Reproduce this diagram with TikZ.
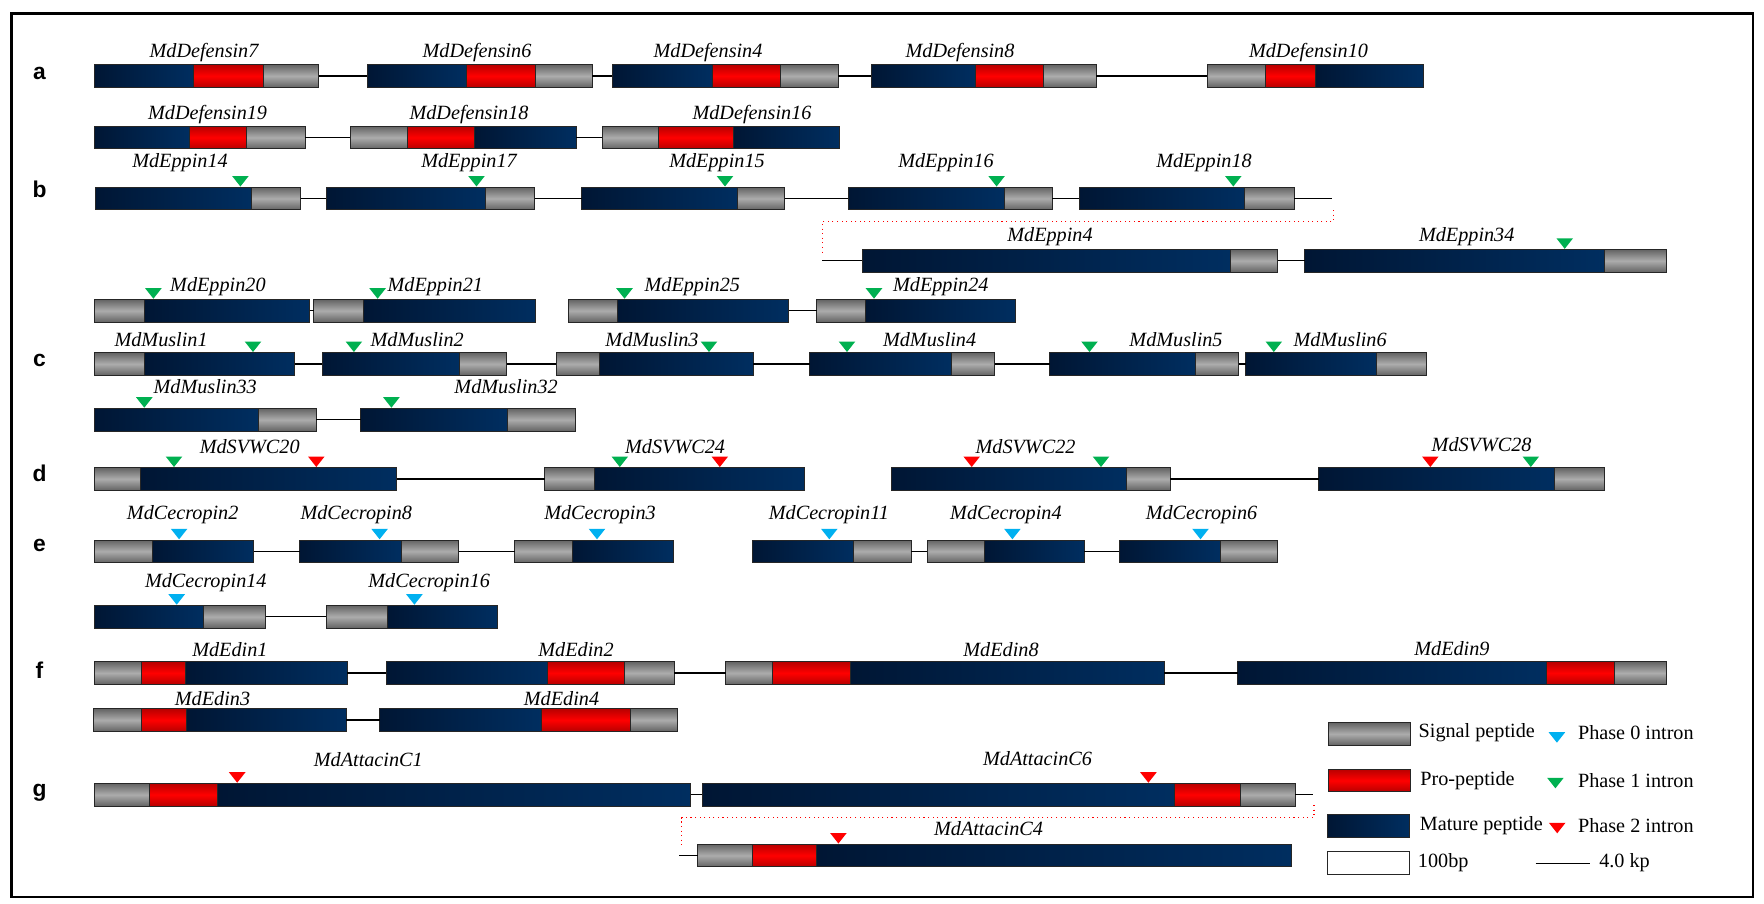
\documentclass[tikz,border=0pt]{standalone}
\usepackage{fontspec}
\setmainfont{Liberation Serif}
\setsansfont{Liberation Sans}
\usepackage{tikz}
\def\pix{0.02cm}

\definecolor{bluedark}{RGB}{0,22,52}
\definecolor{bluelight}{RGB}{0,46,96}
\definecolor{sigdark}{RGB}{100,100,100}
\definecolor{siglight}{RGB}{172,172,172}
\definecolor{reddark}{RGB}{185,0,0}
\definecolor{ph0}{RGB}{0,176,240}
\definecolor{ph1}{RGB}{0,176,80}
\definecolor{ph2}{RGB}{255,0,0}

% one gene = a row of peptide segments, named <gene>-1, <gene>-2, ...
\newcommand{\gene}[3]{%
  \foreach \xa/\xb/\kind [count=\k] in {#3}
    {\node[\kind, minimum width={(\xb-\xa)*\pix}] (#1-\k) at ({(\xa+\xb)/2},#2) {};}%
}
% intron mark sitting on top of a gene row
\newcommand{\imark}[3]{\fill[#1] ({#2-8.3},{#3-22.5}) -- ({#2+8.3},{#3-22.5}) -- (#2,{#3-12}) -- cycle;}

\begin{document}
\begin{tikzpicture}[x=\pix, y=-\pix]
    \tikzstyle{segment}=[rectangle, draw=black!85, line width=0.5pt, minimum height=0.45cm, inner sep=0pt, outer sep=0pt]
    \tikzstyle{sigpep}=[segment, top color=sigdark, bottom color=sigdark, middle color=siglight]
    \tikzstyle{propep}=[segment, top color=reddark, bottom color=reddark, middle color=red]
    \tikzstyle{matpep}=[segment, left color=bluedark, right color=bluelight]
    \tikzstyle{intron}=[draw=black, line width=0.6pt]
    \tikzstyle{link}=[draw=red, dotted, line width=0.6pt]
    \tikzstyle{gname}=[font=\fontsize{11.5}{13}\selectfont\itshape, inner sep=0pt]
    \tikzstyle{legtext}=[font=\fontsize{11.5}{13}\selectfont, anchor=west, inner sep=0pt]
    \tikzstyle{rowlabel}=[font=\fontsize{13}{15}\selectfont\sffamily\bfseries, inner sep=0pt]

    \useasboundingbox (0,0) rectangle (1764,903);
    \draw[line width=1.2pt] (11.5,13.5) rectangle (1753,897);

    % Row letters
    \foreach \r/\y in {a/73,b/189,c/360,d/473,e/545,f/670,g/793}
        \node[rowlabel] (row-\r) at (39.5,\y) {\r};

    % a: defensins
    \gene{D7}{76}{94.1/193.7/matpep,193.7/263/propep,263/318.7/sigpep}
    \gene{D6}{76}{367/466.6/matpep,466.6/535.8/propep,535.8/592/sigpep}
    \gene{D4}{76}{612/712/matpep,712/780.7/propep,780.7/838/sigpep}
    \gene{D8}{76}{871/975/matpep,975/1043.6/propep,1043.6/1096/sigpep}
    \gene{D10}{76}{1207/1265/sigpep,1265/1315/propep,1315/1423/matpep}
    \gene{D19}{137.5}{94/189/matpep,189/246/propep,246/305/sigpep}
    \gene{D18}{137.5}{350/407/sigpep,407/474.5/propep,474.5/576/matpep}
    \gene{D16}{137.5}{602/658.5/sigpep,658.5/733.6/propep,733.6/839/matpep}

    % b: eppins
    \gene{E14}{198.5}{95/251/matpep,251/300.5/sigpep}
    \gene{E17}{198.5}{326/485.6/matpep,485.6/534.6/sigpep}
    \gene{E15}{198.5}{581.6/737.6/matpep,737.6/784.6/sigpep}
    \gene{E16}{198.5}{848.3/1004/matpep,1004/1052/sigpep}
    \gene{E18}{198.5}{1079/1244.4/matpep,1244.4/1294.3/sigpep}
    \gene{E4}{260.8}{862.2/1230.3/matpep,1230.3/1277.6/sigpep}
    \gene{E34}{260.8}{1304.8/1604.5/matpep,1604.5/1666.7/sigpep}
    \gene{E20}{310.7}{94.9/144.3/sigpep,144.3/309.6/matpep}
    \gene{E21}{310.7}{313.6/363/sigpep,363/535.8/matpep}
    \gene{E25}{310.7}{568.2/617.8/sigpep,617.8/788.6/matpep}
    \gene{E24}{310.7}{816.7/865.7/sigpep,865.7/1015/matpep}
    \coordinate (E18-tail) at (1332,198.5);
    \coordinate (E4-head) at (822.2,260.8);
    \draw[intron] (E18-2.east) -- (E18-tail);
    \draw[intron] (E4-head) -- (E4-1.west);
    \draw[link] (1333.4,210) |- (822.2,221.7) -- (822.2,251.7);

    % c: muslins
    \gene{M1}{364}{94.9/144.3/sigpep,144.3/294.6/matpep}
    \gene{M2}{364}{322.3/459.5/matpep,459.5/506.9/sigpep}
    \gene{M3}{364}{556.3/599.8/sigpep,599.8/753.4/matpep}
    \gene{M4}{364}{809.6/951.9/matpep,951.9/994.6/sigpep}
    \gene{M5}{364}{1049.6/1195.6/matpep,1195.6/1238.5/sigpep}
    \gene{M6}{364}{1245.9/1376.6/matpep,1376.6/1426.9/sigpep}
    \gene{M33}{419.7}{94.1/258.2/matpep,258.2/316.3/sigpep}
    \gene{M32}{419.7}{360.6/507.3/matpep,507.3/575.3/sigpep}

    % d: SVWCs
    \gene{S20}{479}{94.9/140.4/sigpep,140.4/396.6/matpep}
    \gene{S24}{479}{544.9/594.3/sigpep,594.3/804.4/matpep}
    \gene{S22}{479}{891.4/1126.7/matpep,1126.7/1170.2/sigpep}
    \gene{S28}{479}{1318.5/1554.3/matpep,1554.3/1604.5/sigpep}

    % e: cecropins
    \gene{C2}{551.3}{94.9/152.2/sigpep,152.2/253.9/matpep}
    \gene{C8}{551.3}{299.7/401.3/matpep,401.3/458.7/sigpep}
    \gene{C3}{551.3}{514.8/572.2/sigpep,572.2/673.2/matpep}
    \gene{C11}{551.3}{752.2/853.8/matpep,853.8/911.2/sigpep}
    \gene{C4}{551.3}{927/984.3/sigpep,984.3/1084.4/matpep}
    \gene{C6}{551.3}{1119.2/1220.2/matpep,1220.2/1277.9/sigpep}
    \gene{C14}{616.7}{94.1/203.6/matpep,203.6/265.7/sigpep}
    \gene{C16}{616.7}{326.2/387.5/sigpep,387.5/497/matpep}

    % f: edins
    \gene{Ed1}{673}{94.9/141.6/sigpep,141.6/185.8/propep,185.8/347.2/matpep}
    \gene{Ed2}{673}{386.3/547.6/matpep,547.6/624.5/propep,624.5/674.3/sigpep}
    \gene{Ed8}{673}{725.7/772.8/sigpep,772.8/850.3/propep,850.3/1164.2/matpep}
    \gene{Ed9}{673}{1237.7/1546/matpep,1546/1614.6/propep,1614.6/1666.7/sigpep}
    \gene{Ed3}{720}{93.7/141.2/sigpep,141.2/186.6/propep,186.6/346/matpep}
    \gene{Ed4}{720}{379.6/541.7/matpep,541.7/630.8/propep,630.8/677.9/sigpep}

    % g: attacins
    \gene{A1}{794.7}{94.9/149.5/sigpep,149.5/217.5/propep,217.5/690.9/matpep}
    \gene{A6}{794.7}{702/1174.5/matpep,1174.5/1240.7/propep,1240.7/1295.4/sigpep}
    \gene{A4}{855.5}{697.7/752.2/sigpep,752.2/816.7/propep,816.7/1291.7/matpep}
    \coordinate (A6-tail) at (1313,794.7);
    \coordinate (A4-head) at (679,855.5);
    \draw[intron] (A6-3.east) -- (A6-tail);
    \draw[intron] (A4-head) -- (A4-1.west);
    \draw[link] (1314,805) |- (681.8,817.5) -- (681.8,846);

    % Connect the genes of each row
    \foreach \from/\to in {D7-3/D6-1,D6-3/D4-1,D4-3/D8-1,D8-3/D10-1,D19-3/D18-1,D18-3/D16-1,
        E14-2/E17-1,E17-2/E15-1,E15-2/E16-1,E16-2/E18-1,E4-2/E34-1,E20-2/E21-1,E25-2/E24-1,
        M1-2/M2-1,M2-2/M3-1,M3-2/M4-1,M4-2/M5-1,M5-2/M6-1,M33-2/M32-1,S20-2/S24-1,S22-2/S28-1,
        C2-2/C8-1,C8-2/C3-1,C11-2/C4-1,C4-2/C6-1,C14-2/C16-1,Ed1-3/Ed2-1,Ed2-3/Ed8-1,
        Ed8-3/Ed9-1,Ed3-3/Ed4-1,A1-3/A6-1}
        \path[intron] (\from.east) -- (\to.west);

    % Intron phases
    \foreach \x in {240.4,476.5,725,996.6,1233.3} {\imark{ph1}{\x}{198.5}}
    \imark{ph1}{1564.7}{260.8}
    \foreach \x in {153.4,377.6,624.5,874} {\imark{ph1}{\x}{310.7}}
    \foreach \x in {253,353.9,709,847,1089.5,1273.8} {\imark{ph1}{\x}{364}}
    \foreach \x in {144.3,391.4} {\imark{ph1}{\x}{419.7}}
    \foreach \x in {174,619.8,1101,1530.8} {\imark{ph1}{\x}{479}}
    \foreach \x in {316.3,719.8,971.7,1430.3} {\imark{ph2}{\x}{479}}
    \foreach \x in {179.1,379.6,597,829.3,1012.4,1200.5} {\imark{ph0}{\x}{551.3}}
    \foreach \x in {176.7,414.4} {\imark{ph0}{\x}{616.7}}
    \foreach \x in {237.2,1148.4} {\imark{ph2}{\x}{794.7}}
    \imark{ph2}{838.4}{855.5}

    % Gene names
    \foreach \nm/\x/\y/\txt in {D7/204/53/MdDefensin7,D6/477/53/MdDefensin6,D4/708/53/MdDefensin4,
        D8/960/53/MdDefensin8,D10/1308.5/53/MdDefensin10,D19/207.6/115/MdDefensin19,
        D18/469/115/MdDefensin18,D16/752/115/MdDefensin16,
        E14/180/163/MdEppin14,E17/469/163/MdEppin17,E15/717/163/MdEppin15,E16/946/163/MdEppin16,
        E18/1204/163/MdEppin18,E4/1050/236.7/MdEppin4,E34/1466.7/236.7/MdEppin34,
        E20/217.9/286.7/MdEppin20,E21/435.3/286.7/MdEppin21,E25/692.3/286.7/MdEppin25,
        E24/940.8/286.7/MdEppin24,
        M1/161.1/339.3/MdMuslin1,M2/417.2/339.3/MdMuslin2,M3/652/339.3/MdMuslin3,
        M4/929.6/339.3/MdMuslin4,M5/1176/339.3/MdMuslin5,M6/1340.1/339.3/MdMuslin6,
        M33/205.2/386.7/MdMuslin33,M32/506.1/386.7/MdMuslin32,
        S20/249.7/446.5/MdSVWC20,S24/675.1/446.5/MdSVWC24,S22/1025.5/446.5/MdSVWC22,
        S28/1481.6/445/MdSVWC28,
        C2/182.7/515/MdCecropin2,C8/356.3/515/MdCecropin8,C3/600/515/MdCecropin3,
        C11/828.9/515/MdCecropin11,C4/1005.9/515/MdCecropin4,C6/1201.5/515/MdCecropin6,
        C14/205.8/582.7/MdCecropin14,C16/429.2/582.7/MdCecropin16,
        Ed1/229.9/649.3/MdEdin1,Ed2/576/649.3/MdEdin2,Ed8/1001/649.3/MdEdin8,
        Ed9/1451.9/648.3/MdEdin9,Ed3/212.5/699/MdEdin3,Ed4/561.5/699/MdEdin4,
        A1/368.3/759.3/MdAttacinC1,A6/1037.5/758.3/MdAttacinC6,A4/988.5/828.3/MdAttacinC4}
        {\node[gname] (l\nm) at (\x,\y) {\txt};}

    % Legend
    \node[sigpep, minimum width=82.7*\pix] (leg-sig) at (1369.5,733.9) {};
    \node[propep, minimum width=82.7*\pix] (leg-pro) at (1369.5,780.5) {};
    \node[matpep, minimum width=82.7*\pix] (leg-mat) at (1368.5,826) {};
    \node[segment, fill=white, minimum width=82.7*\pix] (leg-len) at (1368.5,862.8) {};
    \node[legtext] (leg-sig-t) at (1418.3,733) {Signal peptide};
    \node[legtext] (leg-pro-t) at (1420,780.7) {Pro-peptide};
    \node[legtext] (leg-mat-t) at (1419.5,826) {Mature peptide};
    \node[legtext] (leg-len-t) at (1417.6,862.7) {100bp};
    \imark{ph0}{1556.9}{754.7}
    \imark{ph1}{1555.4}{800.3}
    \imark{ph2}{1557.2}{845.3}
    \node[legtext] (leg-ph0) at (1577.7,733) {Phase 0 intron};
    \node[legtext] (leg-ph1) at (1577.7,781) {Phase 1 intron};
    \node[legtext] (leg-ph2) at (1577.7,826) {Phase 2 intron};
    \coordinate (sc-a) at (1535.6,863.3);
    \coordinate (sc-b) at (1589.6,863.3);
    \draw[intron] (sc-a) -- (sc-b);
    \node[legtext] (leg-kp) at (1598.9,863) {4.0 kp};
\end{tikzpicture}
\end{document}
